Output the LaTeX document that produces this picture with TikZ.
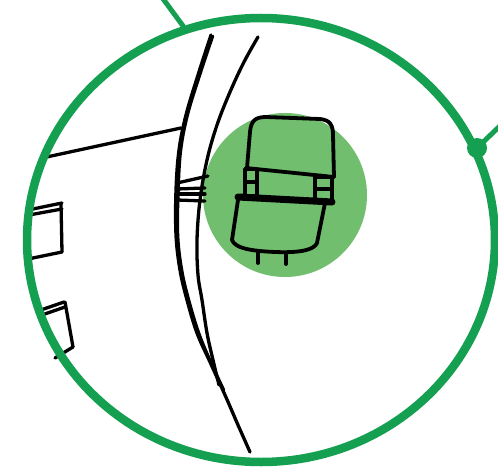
\documentclass[tikz,border=0pt]{standalone}
\usetikzlibrary{shapes.geometric}
\definecolor{ringgreen}{RGB}{20,160,80}
\definecolor{seatgreen}{RGB}{112,190,110}
\begin{document}
\begin{tikzpicture}[x=1pt,y=-1pt,line cap=round,line join=round,
  ink/.style={draw=black,line width=3.3pt},
  thinink/.style={draw=black,line width=2.6pt},
  seatline/.style={draw=black,line width=3.8pt},
  greenline/.style={draw=ringgreen,line width=5pt}]
\clip (0,0) rectangle (498,476);
\fill[white] (0,0) rectangle (498,476);

% highlight disc behind the seat
\node[circle,fill=seatgreen,minimum size=164pt,inner sep=0pt] (disc) at (285,195) {};

% door handles
\draw[ink] (28,210) -- (62,203);
\draw[ink] (29,215) -- (62,209);
\draw[ink] (61,204) -- (62,252);
\draw[ink] (28,259) -- (62,252);
\draw[ink] (38,311) -- (64,302);
\draw[ink] (39,316) -- (65,307);
\draw[ink] (65,302) -- (73,347);
\draw[ink] (55,358) -- (73,347);

% window line
\draw[ink] (42,158) -- (181,128);

% outer body line (doubled stroke)
\draw[ink] plot[smooth,tension=0.6] coordinates {(211,35) (198,75) (186,115) (179,150) (176,190) (176,235) (180,270) (187,300) (197,333) (210,362) (225,395) (238,425) (250,452)};
\draw[thinink] plot[smooth,tension=0.6] coordinates {(213,36) (200,75) (188,114) (181,150) (178.5,190) (178,235) (182,270) (189,300) (199,333) (211,362) (224,390)};

% inner body line
\draw[ink] plot[smooth,tension=0.6] coordinates {(258,37) (244,62) (230,92) (217,125) (207,160) (200,200) (197,240) (198,275) (202,300) (207,333) (213,360) (219,385)};

% mirror mount
\draw[ink] (177,183) -- (208,176);
\draw[ink] (177,189) -- (205,188);
\draw[ink] (177,194) -- (205,194);
\draw[ink] (177,200) -- (205,201);

% seat seen from above: backrest
\draw[seatline] (247,168) -- (250,132) .. controls (251,121) and (255,117) .. (266,117)
  -- (320,119) .. controls (330,120) and (333,125) .. (333,135) -- (334,177);
\draw[seatline] (246,168) -- (334,177);
% side tabs
\draw[seatline] (245,169) rectangle (257,196);
\draw[seatline] (245,182) -- (257,182);
\draw[seatline] (315,177) rectangle (332,202);
\draw[seatline] (315,189) -- (332,189);
% middle band
\draw[seatline] (257,171) -- (257,196);
% hinge bar
\draw[black,line width=7pt] (238,197) -- (332,202);
% seat cushion
\draw[seatline] (238,200) -- (232,240) .. controls (235,248) and (250,251) .. (275,252)
  .. controls (300,253) and (314,250) .. (317,243) -- (325,203);
% feet
\draw[seatline] (258,253) -- (258,263);
\draw[seatline] (286,254) -- (286,264);

% magnifier ring, hub and leader lines
\node[ellipse,draw=ringgreen,line width=8.5pt,minimum width=468pt,minimum height=444pt,inner sep=0pt] (ring) at (261,240) {};
\node[circle,fill=ringgreen,minimum size=20pt,inner sep=0pt] (hub) at (477,148) {};
\coordinate (tailTop) at (161,-4);
\coordinate (tailRight) at (503,123);
\draw[greenline] (tailTop) -- (ring.110);
\draw[greenline] (hub.center) -- (tailRight);
\end{tikzpicture}
\end{document}
